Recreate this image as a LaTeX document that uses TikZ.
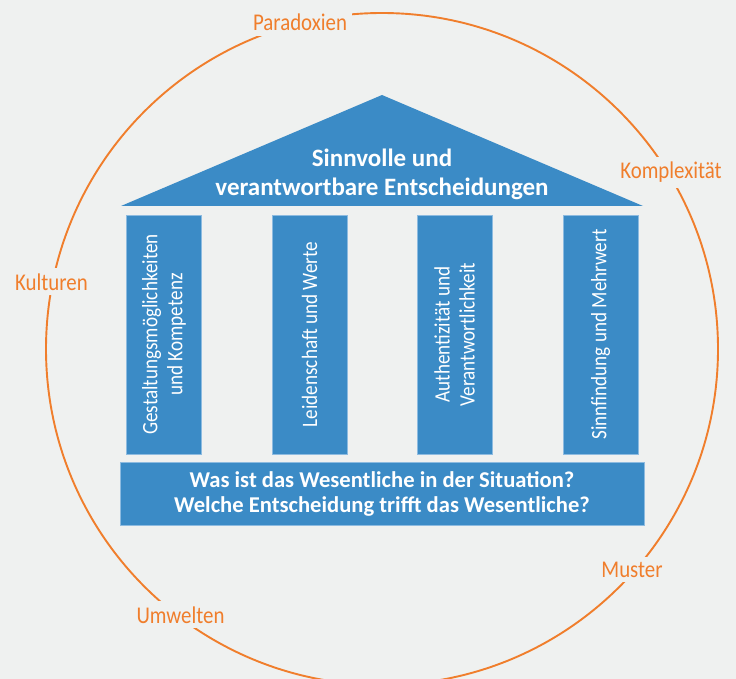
\documentclass[tikz,border=0pt]{standalone}
\usepackage{fontspec}
\setmainfont{Carlito}[FakeStretch=0.87, BoldFeatures={FakeStretch=1.0}]
\definecolor{paper}{HTML}{EFF1F0}
\definecolor{temple}{HTML}{3B8BC6}
\definecolor{templeedge}{HTML}{8DBBE0}
\definecolor{ring}{HTML}{F07E2C}
\newcommand{\ringX}{382}
\newcommand{\ringY}{349}
\newcommand{\ringR}{336}
\newcommand{\colY}{334.5}

\begin{document}
\begin{tikzpicture}[x=1pt,y=-1pt,
    pillar/.style={fill=temple, draw=templeedge, line width=0.6pt, rotate=90,
        minimum width=239pt, minimum height=75pt, inner sep=0pt,
        text=white, align=center, font=\fontsize{22}{25}\selectfont},
    ringlabel/.style={fill=paper, text=ring, inner sep=5pt, anchor=base,
        font=\fontsize{24}{28}\selectfont}]

        % Background and size of the picture
        \fill[paper] (0,0) rectangle (736,679);
        \useasboundingbox (0,0) rectangle (736,679);

        % Draw the outer ring
        \draw[ring, line width=1.9pt] (\ringX,\ringY) circle[radius=\ringR pt];

        % Labels on the ring, they cut gaps into it
        \node[ringlabel] (paradox) at (300,31) {Paradoxien};
        \node[ringlabel] (komplex) at (671,179) {Komplexität};
        \node[ringlabel] (kultur) at (51.5,290) {Kulturen};
        \node[ringlabel] (muster) at (632,577) {Muster};
        \node[ringlabel] (umwelt) at (180.5,623) {Umwelten};

        % Roof
        \fill[temple] (121,206) -- (382,95) -- (643,206) -- cycle;
        \node[text=white, align=center, font=\bfseries\fontsize{25}{29}\selectfont]
            (roof) at (382,174.5) {Sinnvolle und\\verantwortbare Entscheidungen};

        % Pillars
        \node[pillar] (p1) at (164,\colY) {Gestaltungsmöglichkeiten\\und Kompetenz};
        \node[pillar] (p2) at (309.5,\colY) {Leidenschaft und Werte};
        \node[pillar] (p3) at (454.5,\colY) {Authentizität und\\Verantwortlichkeit};
        \node[pillar] (p4) at (600.5,\colY) {Sinnfindung und Mehrwert};

        % Base
        \node[fill=temple, draw=templeedge, line width=0.6pt, minimum width=524pt,
            minimum height=63pt, inner sep=0pt, text=white, align=center,
            font=\bfseries\fontsize{22.6}{25}\selectfont]
            (base) at (382,494) {Was ist das Wesentliche in der Situation?\\Welche Entscheidung trifft das Wesentliche?};
    \end{tikzpicture}
\end{document}
